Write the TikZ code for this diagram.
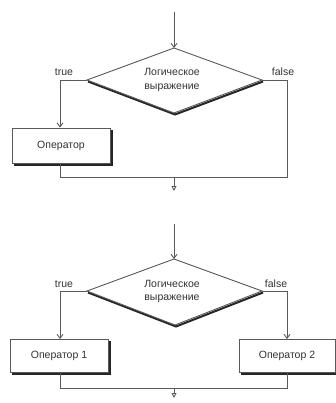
\documentclass[tikz,border=0pt]{standalone}
\usepackage{fontspec}
\setmainfont{Liberation Sans}
\usetikzlibrary{arrows.meta,shapes.geometric,calc}
\begin{document}
\begin{tikzpicture}[x=1pt,y=-1pt,
  ln/.style={draw=black!65,line width=0.9pt},
  va/.style={ln,-{Straight Barb[length=4pt,width=6pt]}},
  ta/.style={ln,-{Triangle[open,length=5pt,width=5pt]}},
  lbl/.style={font=\fontsize{10.5}{12.5}\selectfont,text=black!80},
]
\useasboundingbox (0,0) rectangle (336,403);

% ================= top diagram =================
\coordinate (t1) at (174,12);
\coordinate (d1t) at (174,48);
\coordinate (d1l) at (87,80);
\coordinate (d1r) at (262,80);
\coordinate (d1b) at (174,113);
% diamond shadow
\draw[black!85,line width=2pt] ($(d1l)+(1,1.5)$) -- ($(d1b)+(1,1.5)$) -- ($(d1r)+(1,1.5)$);
\draw[ln,fill=white] (d1t) -- (d1r) -- (d1b) -- (d1l) -- cycle;
\node[lbl,align=center] (c1) at (172,80) {Логическое\\[1pt]выражение};
\node[lbl] (tr1) at (64,72) {true};
\node[lbl] (fa1) at (283,72) {false};
\draw[va] (t1) -- (d1t);
% operator box
\draw[black!85,line width=1.4pt] (14,165) -- (112,165) -- (112,130);
\node[lbl,draw=black!65,line width=0.9pt,fill=white,minimum width=98pt,minimum height=35pt,inner sep=0pt] (op) at (61,145.5) {Оператор};
\coordinate (lk1) at (60,80);
\draw[va] (d1l) -- (lk1) -- (op.north -| lk1);
\coordinate (bl1) at (60,177);
\coordinate (br1) at (287,177);
\coordinate (rk1) at (287,80);
\coordinate (m1) at (174,177);
\coordinate (e1) at (174,191);
\draw[ln] (op.south -| bl1) -- (bl1) -- (br1) -- (rk1) -- (d1r);
\draw[ta] (m1) -- (e1);

% ================= bottom diagram =================
\coordinate (t2) at (174,224);
\coordinate (d2t) at (174,259);
\coordinate (d2l) at (87,291);
\coordinate (d2r) at (262,291);
\coordinate (d2b) at (175,325);
\draw[black!85,line width=2pt] ($(d2l)+(1,1.5)$) -- ($(d2b)+(1,1.5)$) -- ($(d2r)+(1,1.5)$);
\draw[ln,fill=white] (d2t) -- (d2r) -- (d2b) -- (d2l) -- cycle;
\node[lbl,align=center] (c2) at (172,291.5) {Логическое\\[1pt]выражение};
\node[lbl] (tr2) at (64,284) {true};
\node[lbl] (fa2) at (276,284) {false};
\draw[va] (t2) -- (d2t);
% boxes
\draw[black!85,line width=1.4pt] (12,374) -- (110,374) -- (110,341);
\node[lbl,draw=black!65,line width=0.9pt,fill=white,minimum width=98pt,minimum height=33pt,inner sep=0pt] (op1) at (59,356) {Оператор 1};
\draw[black!85,line width=1.4pt] (241,374) -- (336,374) -- (336,341);
\node[lbl,draw=black!65,line width=0.9pt,fill=white,minimum width=96pt,minimum height=33pt,inner sep=0pt] (op2) at (287,356) {Оператор 2};
\coordinate (lk2) at (60,291);
\coordinate (rk2) at (287,291);
\draw[va] (d2l) -- (lk2) -- (op1.north -| lk2);
\draw[va] (d2r) -- (rk2) -- (op2.north -| rk2);
\coordinate (bl2) at (60,388);
\coordinate (br2) at (287,388);
\coordinate (m2) at (174,388);
\coordinate (e2) at (174,398);
\draw[ln] (op1.south -| bl2) -- (bl2) -- (br2) -- (op2.south -| br2);
\draw[ta] (m2) -- (e2);
\end{tikzpicture}
\end{document}
